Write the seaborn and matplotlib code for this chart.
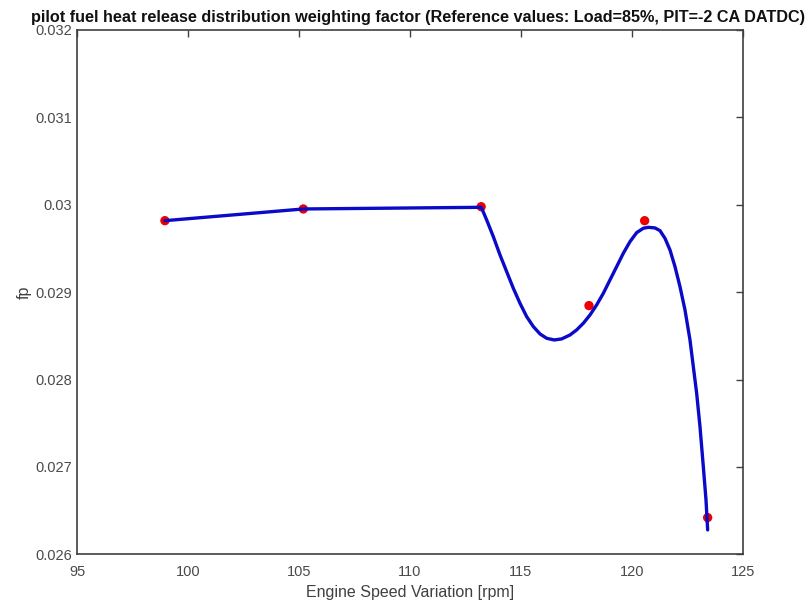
import matplotlib as mpl
from matplotlib import pyplot as plt
import numpy as np
import pandas as pd
import seaborn as sns

# Measured points (red markers)
speed = [98.95, 105.19, 113.21, 118.07, 120.58, 123.42]
fp = [0.029818, 0.029952, 0.029978, 0.028846, 0.029818, 0.02642]

# Fitted curve
curve_speed = [98.95, 105.19, 113.216, 113.457, 113.757, 114.058, 114.358,
               114.659, 114.959, 115.260, 115.561, 115.861, 116.162, 116.507,
               116.838, 117.214, 117.515, 117.815, 118.116, 118.416, 118.717,
               119.017, 119.318, 119.618, 119.919, 120.219, 120.520, 120.745,
               121.046, 121.271, 121.497, 121.722, 121.948, 122.173, 122.399,
               122.624, 122.774, 122.925, 123.075, 123.225, 123.346, 123.421]
curve_fp = [0.029818, 0.029952, 0.029971, 0.029826, 0.029635, 0.029426,
            0.029235, 0.029044, 0.028873, 0.028720, 0.028606, 0.028522,
            0.028472, 0.028453, 0.028465, 0.028510, 0.028568, 0.028644,
            0.028739, 0.028854, 0.028987, 0.029140, 0.029292, 0.029445,
            0.029578, 0.029681, 0.029731, 0.029742, 0.029735, 0.029704,
            0.029616, 0.029483, 0.029292, 0.029063, 0.028796, 0.028453,
            0.028148, 0.027843, 0.027461, 0.027004, 0.026622, 0.026279]

x_ticks = [95, 100, 105, 110, 115, 120, 125]
y_ticks = [0.026, 0.027, 0.028, 0.029, 0.03, 0.031, 0.032]
y_labels = ['0.026', '0.027', '0.028', '0.029', '0.03', '0.031', '0.032']

TITLE = 'pilot fuel heat release distribution weighting factor (Reference values: Load=85%, PIT=-2 CA DATDC)'

sns.set_style('white')
plt.rcParams['font.family'] = ['Liberation Sans', 'DejaVu Sans']

points = pd.DataFrame({'speed': speed, 'fp': fp})
curve = pd.DataFrame({'speed': curve_speed, 'fp': curve_fp})

fig = plt.figure(figsize=(8.07, 6.06), dpi=100)
axes = fig.add_axes([0.0958, 0.0853, 0.8245, 0.8652])

# Red points first, line on top
sns.scatterplot(data=points, x='speed', y='fp', ax=axes, color='#ee0000',
                s=45, edgecolor='none', zorder=2)
sns.lineplot(data=curve, x='speed', y='fp', ax=axes, sort=False,
             color='#0a0ac8', linewidth=2.4, zorder=3)

axes.set_xlim(95, 125)
axes.set_ylim(0.026, 0.032)
axes.set_xticks(x_ticks)
axes.set_yticks(y_ticks)
axes.set_yticklabels(y_labels)

axes.tick_params(direction='in', length=5, width=1, color='#404040',
                 labelsize=10.5, labelcolor='#4a4a4a', top=True, right=True,
                 pad=4)
axes.tick_params(axis='x', pad=8)
for side in axes.spines.values():
    side.set_visible(True)
    side.set_color('#404040')
    side.set_linewidth(1.2)

axes.set_xlabel('Engine Speed Variation [rpm]', fontsize=11.5, color='#404040', labelpad=4)
axes.set_ylabel('fp', fontsize=11.5, color='#404040', labelpad=2)
axes.set_title(TITLE, fontsize=11.7, fontweight='bold', color='#111111', pad=6, x=0.512)

fig.savefig('out.png', dpi=100)
